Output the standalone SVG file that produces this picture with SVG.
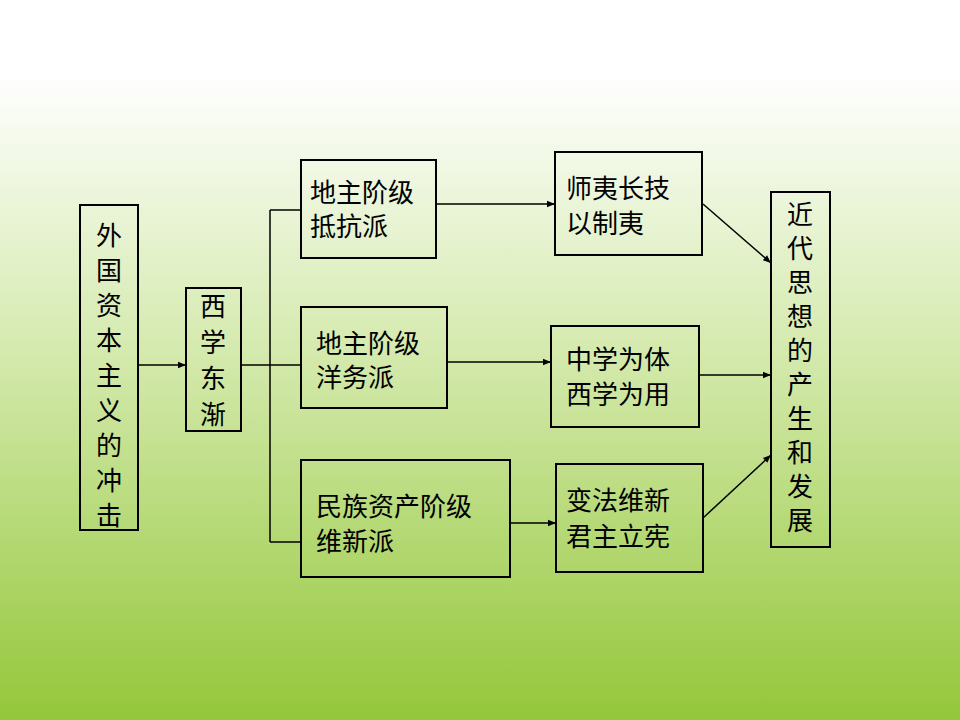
<svg xmlns="http://www.w3.org/2000/svg" width="960" height="720" viewBox="0 0 960 720">
<defs>
<linearGradient id="bg" x1="0" y1="0" x2="0" y2="1">
<stop offset="0" stop-color="#ffffff"/>
<stop offset="0.1" stop-color="#ffffff"/>
<stop offset="0.5" stop-color="#d3e9ab"/>
<stop offset="1" stop-color="#94c73a"/>
</linearGradient>
<marker id="ah" viewBox="0 0 10 10" refX="10" refY="5" markerWidth="10" markerHeight="8" markerUnits="userSpaceOnUse" orient="auto">
<path d="M0,1 L10,5 L0,9 Z" fill="#000"/>
</marker>
<style>
.b{fill:none;stroke:#000;stroke-width:2}
.t{font-family:"Noto Sans CJK SC","Noto Sans CJK JP",sans-serif;font-size:26px;fill:#000}
.v{font-family:"Noto Sans CJK SC","Noto Sans CJK JP",sans-serif;font-size:26px;fill:#000;text-anchor:middle}
.c{stroke:#000;stroke-width:1.5;fill:none}
.a{stroke:#000;stroke-width:1.5;fill:none;marker-end:url(#ah)}
</style>
</defs>
<rect width="960" height="720" fill="url(#bg)"/>
<g id="n1"><rect class="b" x="80" y="205" width="58" height="325"/>
<text class="v" x="109" y="245">外</text><text class="v" x="109" y="280">国</text><text class="v" x="109" y="315">资</text><text class="v" x="109" y="350">本</text><text class="v" x="109" y="385">主</text><text class="v" x="109" y="420">义</text><text class="v" x="109" y="455">的</text><text class="v" x="109" y="490">冲</text><text class="v" x="109" y="525">击</text></g>
<g id="n2"><rect class="b" x="186" y="288" width="55" height="143"/>
<text class="v" x="213" y="316">西</text><text class="v" x="213" y="352">学</text><text class="v" x="213" y="388">东</text><text class="v" x="213" y="424">渐</text></g>
<g id="nA"><rect class="b" x="301" y="160" width="135" height="98"/>
<text class="t" x="310" y="202">地主阶级</text><text class="t" x="310" y="236">抵抗派</text></g>
<g id="nB"><rect class="b" x="301" y="307" width="146" height="101"/>
<text class="t" x="316" y="353">地主阶级</text><text class="t" x="316" y="387">洋务派</text></g>
<g id="nC"><rect class="b" x="301" y="460" width="209" height="117"/>
<text class="t" x="316" y="516">民族资产阶级</text><text class="t" x="316" y="551">维新派</text></g>
<g id="nD"><rect class="b" x="555" y="152" width="147" height="103"/>
<text class="t" x="566" y="198">师夷长技</text><text class="t" x="566" y="233">以制夷</text></g>
<g id="nE"><rect class="b" x="551" y="326" width="148" height="101"/>
<text class="t" x="566" y="369">中学为体</text><text class="t" x="566" y="404">西学为用</text></g>
<g id="nF"><rect class="b" x="556" y="464" width="147" height="108"/>
<text class="t" x="566" y="510">变法维新</text><text class="t" x="566" y="546">君主立宪</text></g>
<g id="nG"><rect class="b" x="771" y="192" width="59" height="355"/>
<text class="v" x="800" y="224">近</text><text class="v" x="800" y="258">代</text><text class="v" x="800" y="292">思</text><text class="v" x="800" y="326">想</text><text class="v" x="800" y="360">的</text><text class="v" x="800" y="394">产</text><text class="v" x="800" y="428">生</text><text class="v" x="800" y="462">和</text><text class="v" x="800" y="496">发</text><text class="v" x="800" y="530">展</text></g>
<g id="connectors">
<line class="a" x1="138" y1="365" x2="186" y2="365"/>
<line class="c" x1="241" y1="365" x2="301" y2="365"/>
<line class="c" x1="270" y1="210" x2="270" y2="542"/>
<line class="c" x1="270" y1="210" x2="301" y2="210"/>
<line class="c" x1="270" y1="542" x2="301" y2="542"/>
<line class="a" x1="436" y1="204" x2="555" y2="204"/>
<line class="a" x1="447" y1="362" x2="551" y2="362"/>
<line class="a" x1="510" y1="523" x2="556" y2="523"/>
<line class="a" x1="703" y1="204" x2="771" y2="263"/>
<line class="a" x1="699" y1="375" x2="771" y2="375"/>
<line class="a" x1="703" y1="518" x2="771" y2="455"/>
</g>
</svg>
